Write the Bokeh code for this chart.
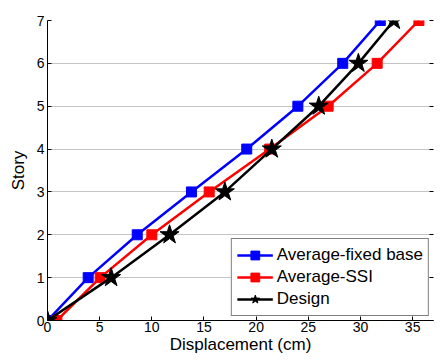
from bokeh.plotting import figure
from bokeh.models import Range1d, Legend, LegendItem, LinearAxis, FixedTicker
from bokeh.embed import file_html
from bokeh.resources import INLINE

# Story levels and peak displacements (cm)
stories = [0, 1, 2, 3, 4, 5, 6, 7]
fixed_base = [0.0, 3.9, 8.6, 13.8, 19.1, 24.0, 28.3, 31.9]
ssi = [0.9, 5.05, 10.0, 15.5, 21.3, 26.9, 31.6, 35.6]
design = [0.0, 6.1, 11.7, 17.0, 21.5, 26.0, 29.8, 33.2]

x_ticks = [0, 5, 10, 15, 20, 25, 30, 35]
y_ticks = [0, 1, 2, 3, 4, 5, 6, 7]

FONT = "Liberation Sans"

p = figure(width=443, height=360, output_backend="svg", toolbar_location=None,
           x_range=Range1d(0, 37), y_range=Range1d(0, 7),
           min_border_left=47, min_border_right=10, min_border_top=20,
           min_border_bottom=40)
p.background_fill_color = "white"
p.border_fill_color = "white"
p.outline_line_color = None

for ax, ticks in ((p.xaxis[0], x_ticks), (p.yaxis[0], y_ticks)):
    ax.ticker = FixedTicker(ticks=ticks)
    ax.minor_tick_line_color = None
    ax.major_tick_in = 4
    ax.major_tick_out = 0
    ax.axis_line_color = "black"
    ax.major_tick_line_color = "black"
    ax.major_label_text_font = FONT
    ax.major_label_text_font_size = "14px"
    ax.major_label_text_color = "black"
    ax.axis_label_text_font = FONT
    ax.axis_label_text_font_size = "17px"
    ax.axis_label_text_font_style = "normal"
    ax.axis_label_text_color = "black"

p.xaxis.axis_label = "Displacement (cm)"
p.yaxis.axis_label = "Story"
p.xaxis.major_label_standoff = 1
p.yaxis.major_label_standoff = 3
p.xaxis.axis_label_standoff = 0
p.yaxis.axis_label_standoff = 6

# unlabelled tick marks along the right edge
right = LinearAxis(ticker=FixedTicker(ticks=y_ticks), axis_line_color=None,
                   major_tick_in=4, major_tick_out=0, minor_tick_line_color=None,
                   major_label_overrides={t: "" for t in y_ticks},
                   major_label_standoff=0)
p.add_layout(right, "right")

p.xgrid.grid_line_color = None
p.ygrid.ticker = FixedTicker(ticks=y_ticks)
p.ygrid.grid_line_color = "#888888"
p.ygrid.grid_line_dash = "1 1"
p.ygrid.grid_line_width = 1

lw = 2.5
l1 = p.line(fixed_base, stories, line_color="blue", line_width=lw)
m1 = p.scatter(fixed_base, stories, marker="square", size=10,
               fill_color="blue", line_color="blue")
l2 = p.line(ssi, stories, line_color="red", line_width=lw)
m2 = p.scatter(ssi, stories, marker="square", size=10,
               fill_color="red", line_color="red")
l3 = p.line(design, stories, line_color="black", line_width=lw)
m3 = p.scatter(design, stories, marker="star", size=20,
               fill_color="black", line_color="black")

legend = Legend(items=[
    LegendItem(label="Average-fixed base", renderers=[l1, m1]),
    LegendItem(label="Average-SSI", renderers=[l2, m2]),
    LegendItem(label="Design", renderers=[l3, m3]),
], location="bottom_right")
legend.margin = 4
legend.padding = 5
legend.spacing = 0
legend.glyph_width = 36
legend.glyph_height = 22
legend.label_height = 22
legend.label_standoff = 4
legend.label_text_font = FONT
legend.label_text_font_size = "17px"
legend.label_text_color = "black"
legend.border_line_color = "black"
legend.border_line_width = 1
legend.background_fill_color = "white"
legend.background_fill_alpha = 1
p.add_layout(legend)

open("out.html", "w").write(file_html(p, INLINE))
